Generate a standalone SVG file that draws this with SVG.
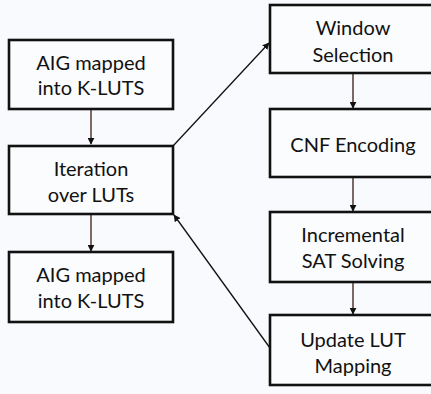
<svg xmlns="http://www.w3.org/2000/svg" width="431" height="394" viewBox="0 0 431 394">
<style>
.box{fill:#fbfcfe;stroke:#111;stroke-width:2.6}
.t{font-family:Lato,"Open Sans",sans-serif;font-size:20px;fill:#111;text-anchor:middle}
.c{stroke:#3a1c12;stroke-width:1.3;fill:none;marker-end:url(#ah)}
.d{stroke:#111;stroke-width:1.3;fill:none;marker-end:url(#ah)}
</style>
<defs>
<marker id="ah" viewBox="0 0 10 10" refX="9" refY="5" markerWidth="7" markerHeight="7" orient="auto" markerUnits="userSpaceOnUse">
<path d="M0,0 L10,5 L0,10 z" fill="#111"/>
</marker>
</defs>
<rect width="431" height="394" fill="#f9fafd"/>
<g id="connectors">
<line class="c" x1="91" y1="110" x2="91" y2="144"/>
<line class="c" x1="91" y1="215" x2="91" y2="251"/>
<line class="d" x1="173" y1="146" x2="269" y2="43"/>
<line class="d" x1="270" y1="348" x2="174" y2="215"/>
<line class="c" x1="353" y1="74" x2="353" y2="108"/>
<line class="c" x1="353" y1="178" x2="353" y2="211"/>
<line class="c" x1="353" y1="283" x2="353" y2="314"/>
</g>
<g id="aig1"><rect class="box" x="9" y="40" width="164" height="69"/>
<text class="t" x="91" y="70">AIG mapped</text><text class="t" x="91" y="95">into K-LUTS</text></g>
<g id="iter"><rect class="box" x="9" y="146" width="164" height="68"/>
<text class="t" x="91" y="176">Iteration</text><text class="t" x="91" y="202">over LUTs</text></g>
<g id="aig2"><rect class="box" x="9" y="252" width="164" height="70"/>
<text class="t" x="91" y="282">AIG mapped</text><text class="t" x="91" y="308">into K-LUTS</text></g>
<g id="window"><rect class="box" x="270" y="5" width="170" height="68"/>
<text class="t" x="353" y="35">Window</text><text class="t" x="353" y="62">Selection</text></g>
<g id="cnf"><rect class="box" x="270" y="109" width="170" height="68"/>
<text class="t" x="353" y="152">CNF Encoding</text></g>
<g id="sat"><rect class="box" x="270" y="212" width="170" height="70"/>
<text class="t" x="353" y="242">Incremental</text><text class="t" x="353" y="268">SAT Solving</text></g>
<g id="update"><rect class="box" x="270" y="315" width="170" height="70"/>
<text class="t" x="353" y="347">Update LUT</text><text class="t" x="353" y="373">Mapping</text></g>
</svg>
